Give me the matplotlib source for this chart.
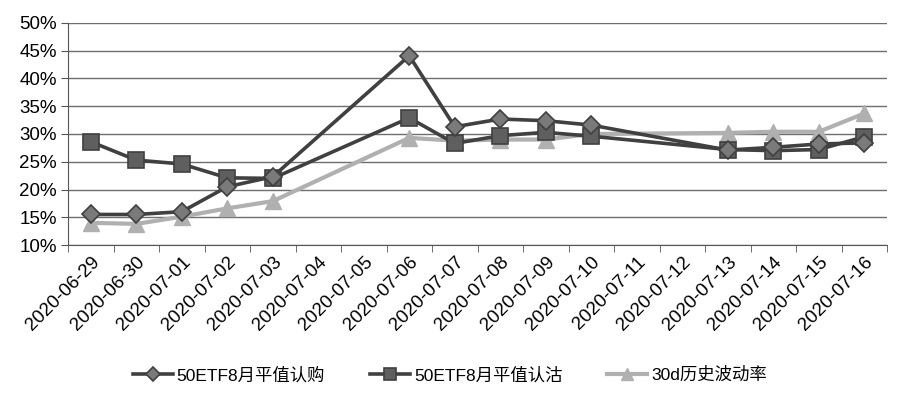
import numpy as np
import matplotlib.pyplot as plt
from matplotlib.ticker import PercentFormatter

plt.rcParams['font.family'] = ['Liberation Sans', 'Noto Sans CJK SC', 'DejaVu Sans']

# calendar labels on the x axis (weekends have no data)
dates = ['2020-06-29', '2020-06-30', '2020-07-01', '2020-07-02', '2020-07-03',
         '2020-07-04', '2020-07-05', '2020-07-06', '2020-07-07', '2020-07-08',
         '2020-07-09', '2020-07-10', '2020-07-11', '2020-07-12', '2020-07-13',
         '2020-07-14', '2020-07-15', '2020-07-16']
trade_days = ['2020-06-29', '2020-06-30', '2020-07-01', '2020-07-02', '2020-07-03',
              '2020-07-06', '2020-07-07', '2020-07-08', '2020-07-09', '2020-07-10',
              '2020-07-13', '2020-07-14', '2020-07-15', '2020-07-16']

call_iv = [15.5, 15.5, 16.0, 20.5, 22.3, 44.1, 31.3, 32.7, 32.4, 31.6, 27.1, 27.6, 28.2, 28.4]
put_iv = [28.6, 25.3, 24.6, 22.1, 22.0, 32.9, 28.3, 29.7, 30.3, 29.6, 27.2, 27.0, 27.2, 29.5]
hv30 = [14.0, 13.8, 15.1, 16.6, 17.9, 29.3, 28.8, 29.0, 29.0, 30.0, 30.2, 30.4, 30.4, 33.7]

names = ['50ETF8月平值认购', '50ETF8月平值认沽', '30d历史波动率']

x = np.array([dates.index(d) for d in trade_days])

fig = plt.figure(figsize=(9, 3.95), dpi=100)
ax = fig.add_axes([68/900, 1-245/395, (887-68)/900, (245-23)/395])

ax.plot(x, call_iv, color='#404040', lw=2.6, marker='D', ms=9,
        mfc='#7a7a7a', mec='#404040', mew=1.2, label=names[0], zorder=4)
ax.plot(x, put_iv, color='#404040', lw=2.6, marker='s', ms=11,
        mfc='#5f5f5f', mec='#404040', mew=1.2, label=names[1], zorder=3)
ax.plot(x, hv30, color='#b0b0b0', lw=3, marker='^', ms=12,
        mfc='#b0b0b0', mec='#b0b0b0', label=names[2], zorder=2)

ax.set_xlim(-0.5, len(dates) - 0.5)
ax.set_ylim(10, 50)
ax.set_yticks(np.arange(10, 51, 5))
ax.yaxis.set_major_formatter(PercentFormatter(decimals=0))
ax.grid(axis='y', color='#6e6e6e', lw=1)
ax.set_axisbelow(True)

ax.set_xticks(np.arange(len(dates)))
ax.set_xticklabels(dates, rotation=45, ha='right', va='top', rotation_mode='anchor')
ax.set_xticks(np.arange(len(dates) + 1) - 0.5, minor=True)
ax.tick_params(axis='x', which='major', length=0, pad=6, labelsize=13.5)
ax.tick_params(axis='x', which='minor', length=5, color='#555555', direction='out')
ax.tick_params(axis='y', length=5, color='#555555', labelsize=13.5, pad=3)

for s in ['top', 'right']:
    ax.spines[s].set_visible(False)
ax.spines['left'].set_color('#555555')
ax.spines['bottom'].set_color('#555555')

fig.legend(loc='center', bbox_to_anchor=(0.5, 1-375/395), ncol=3, frameon=False,
           fontsize=12.5, handlelength=2.3, columnspacing=2.6, handletextpad=0.2,
           markerscale=0.75)

fig.savefig('out.png', dpi=100)
